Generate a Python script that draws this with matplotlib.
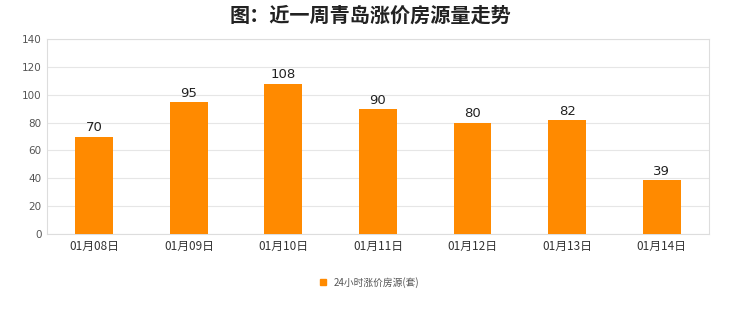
import matplotlib
matplotlib.use("Agg")
import matplotlib.pyplot as plt
from matplotlib.patches import Patch

plt.rcParams['font.family'] = ['Noto Sans CJK SC', 'DejaVu Sans']

categories = ["01月08日", "01月09日", "01月10日", "01月11日", "01月12日", "01月13日", "01月14日"]
values = [70, 95, 108, 90, 80, 82, 39]
series_name = "24小时涨价房源(套)"
title = "图：近一周青岛涨价房源量走势"
yticks = [0, 20, 40, 60, 80, 100, 120, 140]

fig = plt.figure(figsize=(7.4, 3.12), dpi=100)
ax = fig.add_axes([0.0635, 0.25, 0.8945, 0.625])
x = list(range(len(categories)))
bars = ax.bar(x, values, width=0.4, color="#FF8A00", zorder=3)
for xi, v in zip(x, values):
    ax.text(xi, v + 1.5, str(v), ha="center", va="bottom", fontsize=9.5, color="#222222",
            family=['DejaVu Sans'])
ax.set_xlim(-0.5, len(categories) - 0.5)
ax.set_ylim(0, 140)
ax.set_yticks(yticks)
ax.set_yticklabels([str(t) for t in yticks], fontsize=7.5, color="#555555", family=['DejaVu Sans'])
ax.set_xticks(x)
ax.set_xticklabels(categories, fontsize=8.5, color="#333333")
ax.grid(axis="y", color="#e6e6e6", linewidth=0.8, zorder=0)
for s in ["top", "right", "left", "bottom"]:
    ax.spines[s].set_color("#dddddd")
    ax.spines[s].set_linewidth(0.8)
ax.tick_params(axis="both", length=0, pad=4)
fig.text(0.5, 0.95, title, ha="center", va="center", fontsize=14.5, fontweight="bold", color="#222222")
fig.legend(handles=[Patch(color="#FF8A00", label=series_name)], loc="center", bbox_to_anchor=(0.5, 0.095),
           frameon=False, fontsize=7, handlelength=0.6, handleheight=0.6, labelcolor="#555555")
fig.savefig("out.png", dpi=100, facecolor="white")
